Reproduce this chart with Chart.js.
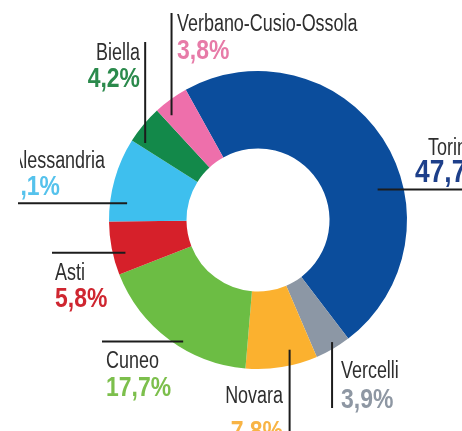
<!DOCTYPE html>
<html>
<head>
<meta charset="utf-8">
<script src="https://cdn.jsdelivr.net/npm/chart.js@4/dist/chart.umd.min.js"></script>
<style>
  html, body { margin: 0; padding: 0; background: #fff; overflow: hidden; }
  canvas { display: block; }
</style>
</head>
<body>
<canvas id="provinceChart" width="462" height="431"></canvas>
<script>
const provinces = ['Torino', 'Vercelli', 'Novara', 'Cuneo', 'Asti', 'Alessandria', 'Biella', 'Verbano-Cusio-Ossola'];
const shares = [47.7, 3.9, 7.8, 17.7, 5.8, 9.1, 4.2, 3.8];
const sliceColors = ['#0b4d9c', '#8c97a5', '#fbb12f', '#6cbd44', '#d6202a', '#3ebfee', '#13894a', '#ee6fab'];
const percentColors = ['#1d3f8a', '#8e97a3', '#f8b445', '#7cbf4c', '#cf2630', '#55c2ec', '#2b8a4c', '#e77ba8'];

// callout placement: where the leader starts inside the slice (t = along the arc,
// r = across the ring), its direction and far end, and the text anchor
const callouts = [
  { t: 0.61, r: 0.67, dir: 'h', end: 462, x: 428, px: 415, y: 155, py: 182, align: 'left', pctSize: 31 },
  { t: 0.43, r: 0.92, dir: 'v', end: 408, x: 341, px: 341, y: 378, py: 408, align: 'left' },
  { t: 0.34, r: 0.80, dir: 'v', end: 431, x: 283, px: 283, y: 403, py: 440, align: 'right' },
  { t: 0.42, r: 0.92, dir: 'h', end: 102, x: 106, px: 106, y: 368, py: 396, align: 'left' },
  { t: 0.36, r: 0.84, dir: 'h', end: 52, x: 55, px: 55, y: 280, py: 307, align: 'left' },
  { t: 0.24, r: 0.78, dir: 'h', end: 18, x: 105, px: 60, y: 168, py: 195, align: 'right' },
  { t: 0.14, r: 0.84, dir: 'v', end: 42, x: 140, px: 140, y: 60, py: 87, align: 'right' },
  { t: 0.23, r: 0.83, dir: 'v', end: 13, x: 177, px: 177, y: 31, py: 59, align: 'left' },
];

const FONT = "'Liberation Sans', Arial, sans-serif";
const TEXT_LEFT = 20; // labels are cut at the panel's left margin

const fmt = (v) => v.toFixed(1).replace('.', ',') + '%';

// condensed lettering: squeeze the glyphs horizontally around the anchor
function squeezedText(ctx, text, x, y, squeeze) {
  ctx.save();
  ctx.translate(x, y);
  ctx.scale(squeeze, 1);
  ctx.fillText(text, 0, 0);
  ctx.restore();
}

const calloutPlugin = {
  id: 'callouts',
  afterDraw(chart) {
    const ctx = chart.ctx;
    const arcs = chart.getDatasetMeta(0).data;
    arcs.forEach((arc, i) => {
      const c = callouts[i];
      const { x, y, startAngle, endAngle, innerRadius, outerRadius } = arc.getProps(
        ['x', 'y', 'startAngle', 'endAngle', 'innerRadius', 'outerRadius'], true);
      const a = startAngle + (endAngle - startAngle) * c.t;
      const rad = innerRadius + (outerRadius - innerRadius) * c.r;
      const sx = x + Math.cos(a) * rad;
      const sy = y + Math.sin(a) * rad;

      ctx.save();
      ctx.strokeStyle = '#1c1c1c';
      ctx.lineWidth = 2;
      ctx.beginPath();
      ctx.moveTo(sx, sy);
      if (c.dir === 'h') ctx.lineTo(c.end, sy);
      else ctx.lineTo(sx, c.end);
      ctx.stroke();

      ctx.beginPath();
      ctx.rect(TEXT_LEFT, 0, chart.width - TEXT_LEFT, chart.height);
      ctx.clip();
      ctx.textAlign = c.align;
      ctx.textBaseline = 'alphabetic';
      ctx.fillStyle = '#2e2e2e';
      ctx.font = '23px ' + FONT;
      squeezedText(ctx, provinces[i], c.x, c.y, 0.78);
      ctx.fillStyle = percentColors[i];
      ctx.font = 'bold ' + (c.pctSize || 27) + 'px ' + FONT;
      squeezedText(ctx, fmt(shares[i]), c.px, c.py, 0.85);
      ctx.restore();
    });
  },
};

new Chart(document.getElementById('provinceChart'), {
  type: 'doughnut',
  data: {
    labels: provinces,
    datasets: [{ data: shares, backgroundColor: sliceColors, borderWidth: 0 }],
  },
  options: {
    responsive: false,
    animation: false,
    rotation: -29,
    cutout: '48%',
    layout: { padding: { top: 71, bottom: 62, left: 109, right: 55 } },
    plugins: { legend: { display: false }, tooltip: { enabled: false } },
  },
  plugins: [calloutPlugin],
});
</script>
</body>
</html>
